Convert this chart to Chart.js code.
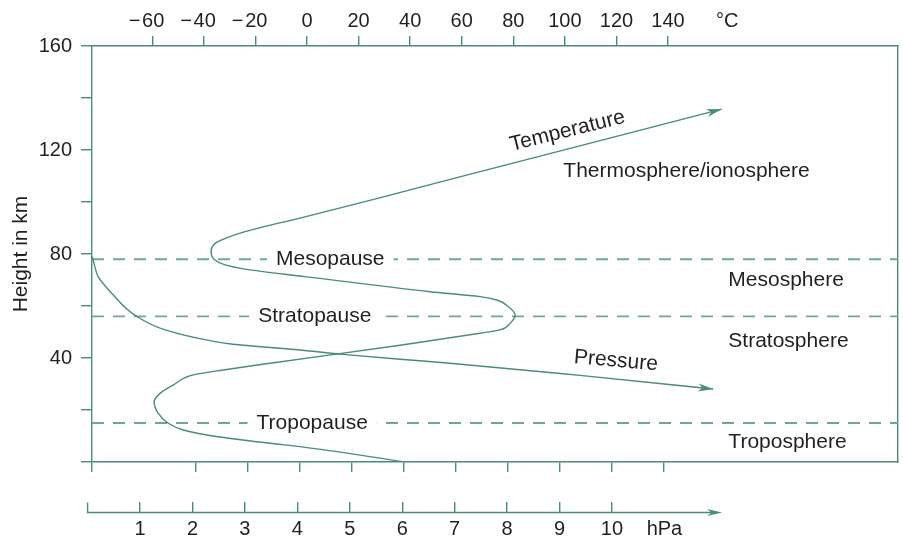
<!DOCTYPE html>
<html><head><meta charset="utf-8">
<script src="https://cdn.jsdelivr.net/npm/chart.js@4.4.1/dist/chart.umd.min.js"></script>
<style>html,body{margin:0;padding:0;background:#fff}#wrap{width:903px;height:538px;position:relative}</style>
</head><body><div id="wrap"><canvas id="c"></canvas></div>
<script>
// ---- data ----
// Temperature profile: temperature in °C and height in km
const tempC  = [38.0, -2.7, -14.3, -38.9, -48.0, -53.8, -57.7, -59.3, -57.0, -51.9, -44.1, -32.5, -14.3, 36.1, 67.1, 74.8, 78.7, 80.7, 78.1, 73.6, 67.1, 47.7, -0.8, -24.0, -31.8, -35.7, -37.2, -36.3, -33.1, -24.0, -0.8, 27.0, 55.5, 160.8];
const tempKm = [0.0, 5.9, 7.2, 10.4, 12.3, 14.9, 18.7, 23.2, 26.4, 29.6, 33.5, 35.4, 38.0, 44.9, 49.5, 50.8, 53.3, 56.5, 59.7, 62.3, 63.6, 65.5, 71.3, 74.2, 75.8, 77.7, 80.9, 83.5, 85.4, 88.6, 94.3, 101.3, 108.7, 135.7];
// Pressure profile: pressure in hPa and height in km
const pressHPa = [0.09, 0.13, 0.20, 0.32, 0.46, 0.90, 1.48, 2.43, 2.77, 4.05, 4.87, 5.96, 6.91, 9.39, 11.93];
const pressKm  = [79.0, 75.8, 71.3, 68.1, 64.9, 56.5, 50.8, 46.3, 45.3, 43.1, 41.4, 39.5, 38.0, 33.3, 28.1];
// Axis ticks
const tempTicks = [-60, -40, -20, 0, 20, 40, 60, 80, 100, 120, 140];
const tempUnit = '°C';
const heightTicks = [0, 20, 40, 60, 80, 100, 120, 140, 160];
const heightLabels = [40, 80, 120, 160];
const hpaTicks = [1, 2, 3, 4, 5, 6, 7, 8, 9, 10];
const hpaUnit = 'hPa';
const baseTicks = [0, 2, 3, 4, 5, 6, 7, 8, 9, 10, 11];
// Boundaries and layers
const boundaryNames = ['Mesopause', 'Stratopause', 'Tropopause'];
const boundaryKm = [78, 56, 15];
const layerNames = ['Thermosphere/ionosphere', 'Mesosphere', 'Stratosphere', 'Troposphere'];
const layerKm = [111.7, 70.0, 46.5, 7.6];
const curveNames = ['Temperature', 'Pressure'];

// ---- layout / style (not data) ----
const GREEN = 'rgb(72,142,113)';
const DASH = 'rgb(108,170,143)';
const TXT = '#231f20';
const FONT = '"Liberation Sans", Arial, Helvetica, sans-serif';
const T_MIN = -83.4, T_MAX = 229.2;       // temperature scale range
const P_MIN = 0.084, P_MAX = 15.454;      // hPa scale range
const B_MIN = 0, B_MAX = 15.5;            // bottom tick scale range
const UNIT_T = 163, UNIT_P = 11, HPA_END = 12.1;
const boundaryLabelT = [9, 3, 2];
const layerLabelT = [99.4, 163.4, 163.4, 163.4];
const curveLabelPos = [{t: 101, h: 127.3, rot: -14}, {t: 119.8, h: 38.9, rot: 5}];

const pts = (xs, ys) => xs.map((x, i) => ({x: x, y: ys[i]}));
const setTicks = list => s => { s.ticks = list.map(v => ({value: v})); };

const curveStyle = {borderColor: GREEN, borderWidth: 1.4, pointRadius: 0, fill: false, arrow: true,
                    indexAxis: 'y', cubicInterpolationMode: 'monotone'};
const datasets = [
  Object.assign({label: curveNames[0], data: pts(tempC, tempKm), xAxisID: 'xT', yAxisID: 'y'}, curveStyle),
  Object.assign({label: curveNames[1], data: pts(pressHPa, pressKm), xAxisID: 'xH', yAxisID: 'y'}, curveStyle)
].concat(boundaryKm.map((h, i) => ({
  label: boundaryNames[i], data: [{x: T_MIN, y: h}, {x: T_MAX, y: h}], xAxisID: 'xT', yAxisID: 'y',
  borderColor: DASH, borderWidth: 1.9, borderDash: [12, 9], pointRadius: 0, tension: 0, fill: false
})));

function arrowHead(ctx, fx, fy, tx, ty, len, half, color) {
  const a = Math.atan2(ty - fy, tx - fx);
  ctx.save();
  ctx.translate(tx, ty); ctx.rotate(a);
  ctx.beginPath();
  ctx.moveTo(0, 0); ctx.lineTo(-len, -half); ctx.lineTo(-len * 0.72, 0); ctx.lineTo(-len, half);
  ctx.closePath(); ctx.fillStyle = color; ctx.fill();
  ctx.restore();
}

const deco = {
  id: 'deco',
  afterDatasetsDraw(chart) {
    const ctx = chart.ctx;
    const {xT, y} = chart.scales;
    ctx.save();
    chart.data.datasets.forEach((ds, i) => {
      if (!ds.arrow) return;
      const el = chart.getDatasetMeta(i).data;
      const b = el[el.length - 1], a = el[el.length - 2];
      arrowHead(ctx, a.x, a.y, b.x, b.y, 15, 4, GREEN);
    });
    ctx.font = '21px ' + FONT;
    ctx.textBaseline = 'middle';
    ctx.textAlign = 'center';
    boundaryNames.forEach((n, i) => {
      const cx = xT.getPixelForValue(boundaryLabelT[i]);
      const cy = y.getPixelForValue(boundaryKm[i]);
      const w = ctx.measureText(n).width;
      ctx.fillStyle = '#fff';
      ctx.fillRect(cx - w / 2 - 9, cy - 3, w + 18, 6);
      ctx.fillStyle = TXT;
      ctx.fillText(n, cx, cy);
    });
    ctx.textAlign = 'left';
    layerNames.forEach((n, i) => {
      ctx.fillStyle = TXT;
      ctx.fillText(n, xT.getPixelForValue(layerLabelT[i]), y.getPixelForValue(layerKm[i]));
    });
    ctx.textAlign = 'center';
    curveNames.forEach((n, i) => {
      const p = curveLabelPos[i];
      ctx.save();
      ctx.translate(xT.getPixelForValue(p.t), y.getPixelForValue(p.h));
      ctx.rotate(p.rot * Math.PI / 180);
      ctx.fillStyle = TXT;
      ctx.fillText(n, 0, 0);
      ctx.restore();
    });
    ctx.restore();
  },
  afterDraw(chart) {
    const ctx = chart.ctx;
    const xH = chart.scales.xH;
    const yy = Math.round(xH.top) + 0.5;
    const x0 = xH.getPixelForValue(0), x1 = xH.getPixelForValue(HPA_END);
    ctx.save();
    ctx.strokeStyle = GREEN; ctx.lineWidth = 1.4;
    ctx.beginPath();
    ctx.moveTo(x0, yy - 10); ctx.lineTo(x0, yy); ctx.lineTo(x1 - 6, yy);
    ctx.stroke();
    arrowHead(ctx, x0, yy, x1, yy, 15, 3.6, GREEN);
    ctx.restore();
  }
};

const tickFont = {family: FONT, size: 20};
const greenUnless = v => c => (c.tick && c.tick.value === v) ? 'rgba(0,0,0,0)' : GREEN;

new Chart(document.getElementById('c'), {
  type: 'line',
  data: {datasets: datasets},
  plugins: [deco],
  options: {
    responsive: true, maintainAspectRatio: false, animation: false, devicePixelRatio: 1,
    layout: {padding: 0},
    plugins: {legend: {display: false}, tooltip: {enabled: false}},
    scales: {
      xT: {
        type: 'linear', position: 'top', min: T_MIN, max: T_MAX,
        afterBuildTicks: setTicks(tempTicks.concat([UNIT_T])),
        afterFit: s => { s.height = 46; },
        grid: {drawOnChartArea: false, tickLength: 10, lineWidth: 1.4, color: greenUnless(UNIT_T)},
        border: {color: GREEN, width: 1.4},
        ticks: {
          autoSkip: false, maxRotation: 0, padding: 3, color: TXT, font: tickFont,
          callback: v => v === UNIT_T ? tempUnit : (v < 0 ? '\u2212\u200A' + Math.abs(v) + '\u2002\u200A' : String(v))
        }
      },
      xB: {
        type: 'linear', position: 'bottom', min: B_MIN, max: B_MAX, weight: 0,
        afterBuildTicks: setTicks(baseTicks),
        afterFit: s => { s.height = 50; },
        grid: {drawOnChartArea: false, tickLength: 10, lineWidth: 1.4, color: GREEN},
        border: {color: GREEN, width: 1.4},
        ticks: {autoSkip: false, maxRotation: 0, callback: () => ''}
      },
      xH: {
        type: 'linear', position: 'bottom', min: P_MIN, max: P_MAX, weight: 1,
        afterBuildTicks: setTicks(hpaTicks.concat([UNIT_P])),
        afterFit: s => { s.height = 26; },
        grid: {drawOnChartArea: false, tickLength: -10, lineWidth: 1.4, color: greenUnless(UNIT_P)},
        border: {display: false},
        ticks: {
          autoSkip: false, maxRotation: 0, padding: 15, color: TXT, font: tickFont,
          callback: v => v === UNIT_P ? hpaUnit : String(v)
        }
      },
      y: {
        type: 'linear', position: 'left', min: 0, max: 160,
        afterBuildTicks: setTicks(heightTicks),
        afterFit: s => { s.width = 92; },
        grid: {drawOnChartArea: false, tickLength: 11, lineWidth: 1.4, color: GREEN},
        border: {color: GREEN, width: 1.4},
        title: {display: true, text: 'Height in km', color: TXT, font: {family: FONT, size: 21}, padding: {top: 9, bottom: 0}},
        ticks: {
          autoSkip: false, padding: 9, color: TXT, font: tickFont,
          callback: v => heightLabels.includes(v) ? String(v) : ''
        }
      },
      y2: {
        type: 'linear', position: 'right', min: 0, max: 160, display: true,
        afterFit: s => { s.width = 5; },
        grid: {display: false},
        border: {display: true, color: GREEN, width: 1.4},
        ticks: {display: false}
      }
    }
  }
});
</script>
</body></html>
